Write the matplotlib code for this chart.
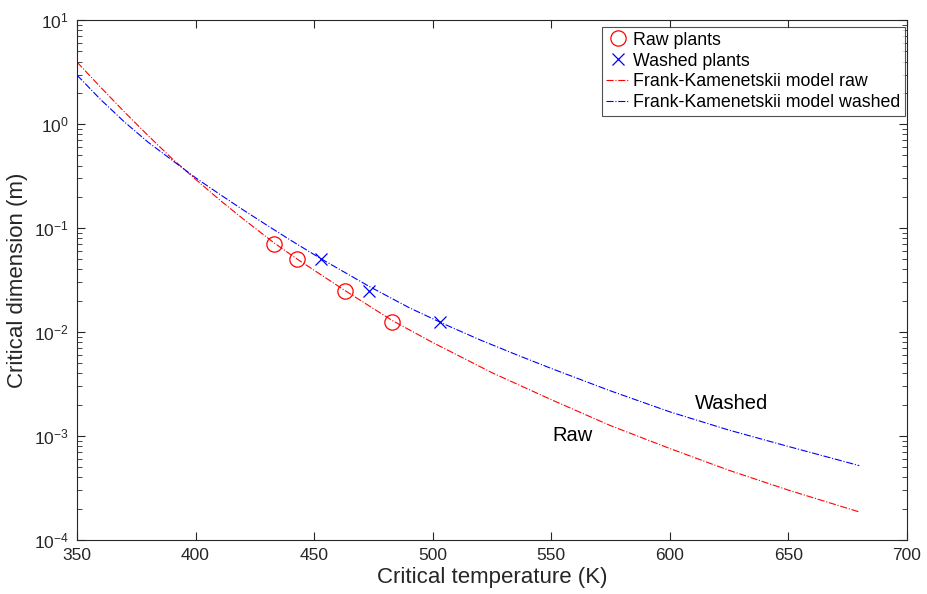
import numpy as np
import matplotlib
matplotlib.use("Agg")
import matplotlib.pyplot as plt
from matplotlib.ticker import LogLocator, NullFormatter

plt.rcParams['font.family'] = ['Liberation Sans', 'DejaVu Sans']

# measured points
raw_T = [433, 443, 463, 483]
raw_d = [0.07, 0.05, 0.025, 0.0125]
washed_T = [453, 473, 503]
washed_d = [0.05, 0.025, 0.0125]

# model curves
model_raw_T = [350, 360, 370, 380, 390, 400, 410, 420, 433, 443, 463, 483, 500,
               525, 550, 575, 600, 625, 650, 680]
model_raw_d = [3.95, 2.26, 1.31, 0.776, 0.468, 0.295, 0.188, 0.123, 0.0724, 0.0501,
               0.0251, 0.0129, 0.00794, 0.00407, 0.00224, 0.00126, 0.000759,
               0.000468, 0.000302, 0.000186]
model_washed_T = [350, 360, 370, 380, 390, 400, 410, 420, 430, 440, 453, 473, 490,
                  505, 520, 535, 550, 575, 600, 625, 650, 680]
model_washed_d = [2.96, 1.72, 1.05, 0.670, 0.452, 0.305, 0.213, 0.150, 0.107, 0.0767,
                  0.0506, 0.0277, 0.0172, 0.0119, 0.00841, 0.00610, 0.00447, 0.00272,
                  0.00171, 0.00114, 0.000794, 0.000519]

fig = plt.figure(figsize=(9.28, 5.94), dpi=100)
ax = fig.add_axes([0.083, 0.091, 0.894, 0.875])

ax.semilogy(raw_T, raw_d, 'o', mfc='none', mec='red', ms=11, mew=0.9, label='Raw plants')
ax.semilogy(washed_T, washed_d, 'x', color='blue', ms=8.5, mew=0.9, label='Washed plants')
ax.semilogy(model_raw_T, model_raw_d, '-.', color='red', lw=0.8, label='Frank-Kamenetskii model raw')
ax.semilogy(model_washed_T, model_washed_d, '-.', color='blue', lw=0.8,
            label='Frank-Kamenetskii model washed')

ax.text(610.5, 2.04e-3, 'Washed', fontsize=14.5, va='center')
ax.text(550.5, 1.0e-3, 'Raw', fontsize=14.5, va='center')

ax.set_xlim(350, 700)
ax.set_ylim(1e-4, 1e1)
ax.set_xticks(np.arange(350, 701, 50))
ax.yaxis.set_minor_locator(LogLocator(base=10, subs=np.arange(2, 10)))
ax.yaxis.set_minor_formatter(NullFormatter())
ax.tick_params(which='both', direction='in', top=True, right=True, labelsize=12.5, colors='#262626')
ax.tick_params(which='major', length=6)
ax.tick_params(which='minor', length=3.5)
ax.tick_params(axis='x', pad=6)
ax.tick_params(axis='y', pad=6)
for s in ax.spines.values():
    s.set_color('#262626')
    s.set_linewidth(0.8)

ax.set_xlabel('Critical temperature (K)', fontsize=16, color='#262626', labelpad=3)
ax.set_ylabel('Critical dimension (m)', fontsize=16, color='#262626')

leg = ax.legend(loc='upper right', fontsize=12.8, frameon=True, fancybox=False, edgecolor='#262626',
                borderpad=0.25, labelspacing=0.22, handlelength=1.3, handletextpad=0.2,
                borderaxespad=0, bbox_to_anchor=(0.9976, 0.9865))
leg.get_frame().set_linewidth(0.8)

fig.savefig('out.png', dpi=100)
